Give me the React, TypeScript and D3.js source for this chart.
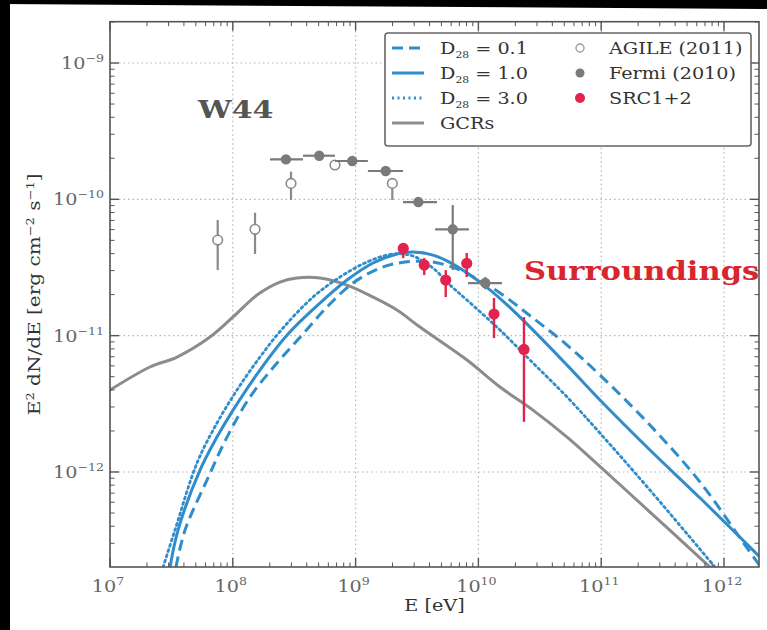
import React, { useEffect } from 'react';
import * as d3 from 'd3';

// ---------- data (log10 values) ----------
const xTickExps = [7, 8, 9, 10, 11, 12];
const yTickExps = [-9, -10, -11, -12];

const gcrLogE = [7.0, 7.326, 7.546, 7.814, 8.002, 8.197, 8.384, 8.523, 8.71, 8.93, 9.142, 9.337, 9.524, 9.907, 10.176, 10.444, 10.722, 10.933, 11.397, 11.886, 12.13];
const gcrLogF = [-11.399, -11.23, -11.157, -11.01, -10.863, -10.702, -10.607, -10.577, -10.577, -10.629, -10.717, -10.812, -10.937, -11.179, -11.377, -11.546, -11.744, -11.913, -12.294, -12.698, -12.903];

const d1LogE = [7.489, 7.554, 7.733, 7.871, 8.002, 8.221, 8.45, 8.71, 8.93, 9.142, 9.337, 9.467, 9.63, 9.793, 10.013, 10.2, 10.445, 10.722, 10.99, 11.397, 11.805, 12.285, 12.415];
const d1LogF = [-12.698, -12.426, -11.986, -11.744, -11.546, -11.252, -10.988, -10.761, -10.592, -10.467, -10.401, -10.387, -10.409, -10.475, -10.607, -10.746, -10.959, -11.216, -11.472, -11.839, -12.191, -12.617, -12.734];

const d01LogE = [7.537, 7.611, 7.79, 7.953, 8.14, 8.36, 8.572, 8.767, 8.979, 9.199, 9.402, 9.63, 9.85, 10.013, 10.176, 10.445, 10.722, 10.99, 11.397, 11.805, 12.171, 12.375];
const d01LogF = [-12.698, -12.426, -12.059, -11.744, -11.45, -11.201, -10.988, -10.79, -10.614, -10.504, -10.46, -10.46, -10.519, -10.599, -10.687, -10.871, -11.069, -11.289, -11.656, -12.074, -12.536, -12.793];

const d3LogE = [7.432, 7.529, 7.708, 7.871, 8.034, 8.221, 8.409, 8.653, 8.873, 9.093, 9.305, 9.467, 9.63, 9.769, 9.907, 10.176, 10.445, 10.722, 10.99, 11.397, 11.927, 12.049];
const d3LogF = [-12.698, -12.426, -11.935, -11.641, -11.399, -11.157, -10.944, -10.717, -10.57, -10.46, -10.401, -10.416, -10.504, -10.629, -10.739, -10.959, -11.201, -11.45, -11.715, -12.133, -12.698, -12.83];

const fermiLogE = [8.433, 8.704, 8.973, 9.245, 9.511, 9.791, 10.056];
const fermiLogELo = [8.303, 8.572, 8.832, 9.1, 9.386, 9.647, 9.915];
const fermiLogEHi = [8.572, 8.832, 9.1, 9.386, 9.663, 9.923, 10.192];
const fermiLogF = [-9.707, -9.68, -9.719, -9.792, -10.02, -10.22, -10.614];
const fermiLogFLo = [-9.73, -9.7, -9.74, -9.82, -10.04, -10.519, -10.66];
const fermiLogFHi = [-9.69, -9.66, -9.7, -9.77, -10.0, -10.042, -10.57];

const agileLogE = [7.877, 8.181, 8.474, 8.832, 9.299];
const agileLogF = [-10.299, -10.22, -9.883, -9.748, -9.883];
const agileLogFLo = [-10.519, -10.401, -10.005, -9.785, -10.005];
const agileLogFHi = [-10.152, -10.098, -9.797, -9.726, -9.844];

const srcLogE = [9.388, 9.559, 9.734, 9.905, 10.127, 10.371];
const srcLogF = [-10.36, -10.482, -10.592, -10.47, -10.842, -11.101];
const srcLogFLo = [-10.431, -10.555, -10.717, -10.57, -11.018, -11.632];
const srcLogFHi = [-10.321, -10.431, -10.519, -10.394, -10.724, -10.864];

const legendLines = ['0.1', '1.0', '3.0'];
const legendMarkers = ['AGILE (2011)', 'Fermi (2010)', 'SRC1+2'];

// ---------- styles ----------
const BLUE = '#2f8dcb';
const GREY_LINE = '#8c8c8c';
const RED = '#e2234d';
const FONT = '"DejaVu Serif", serif';
const SX = 1.2;

const W = 767, H = 630;
const L = 110, R = 759, T = 21.7, B = 567;

const p10 = (v: number) => Math.pow(10, v);

function SText({ x, y, anchor = 'start', size = 17, fill = '#333', weight = 'normal', children }: any) {
  return (
    <g transform={`translate(${x},${y}) scale(${SX},1)`}>
      <text x={0} y={0} textAnchor={anchor} fontSize={size} fill={fill} fontWeight={weight} fontFamily={FONT}>
        {children}
      </text>
    </g>
  );
}

export default function App() {
  useEffect(() => {
    document.body.style.margin = '0';
    document.body.style.overflow = 'hidden';
    document.body.style.background = '#fff';
  }, []);

  const x = d3.scaleLog().domain([1e7, p10(12.285)]).range([L, R]);
  const y = d3.scaleLog().domain([p10(-12.697), p10(-8.697)]).range([B, T]);

  const line = d3
    .line<[number, number]>()
    .x((d) => x(p10(d[0])))
    .y((d) => y(p10(d[1])))
    .curve(d3.curveCatmullRom.alpha(0.5));
  const mk = (e: number[], f: number[]) => line(e.map((v, i) => [v, f[i]] as [number, number])) || '';

  const xMinor: number[] = [];
  for (let k = 7; k <= 12; k++) for (let m = 2; m <= 9; m++) {
    const v = m * p10(k);
    if (v < p10(12.285)) xMinor.push(v);
  }
  const yMinor: number[] = [];
  for (let k = -13; k <= -9; k++) for (let m = 2; m <= 9; m++) {
    const v = m * p10(k);
    if (v > p10(-12.697) && v < p10(-8.697)) yMinor.push(v);
  }

  const axisCol = '#555';
  const gridCol = '#b5b5b5';

  return (
    <svg width={W} height={H} style={{ position: 'fixed', left: 0, top: 0, background: '#fff', display: 'block' }}>
      <rect x={0} y={0} width={W} height={H} fill="#fff" />
      <polygon points={`0,0 ${W},0 ${W},9 0,4`} fill="#000" />
      <rect x={0} y={0} width={10} height={H} fill="#000" />
      <defs>
        <clipPath id="plotClip">
          <rect x={L} y={T} width={R - L} height={B - T} />
        </clipPath>
      </defs>

      {/* grid */}
      {xTickExps.map((k) => (
        <line key={'gx' + k} x1={x(p10(k))} x2={x(p10(k))} y1={T} y2={B} stroke={gridCol} strokeWidth={1.2} strokeDasharray="1.5,3" />
      ))}
      {yTickExps.map((k) => (
        <line key={'gy' + k} x1={L} x2={R} y1={y(p10(k))} y2={y(p10(k))} stroke={gridCol} strokeWidth={1.2} strokeDasharray="1.5,3" />
      ))}

      {/* curves */}
      <g clipPath="url(#plotClip)" fill="none">
        <path d={mk(gcrLogE, gcrLogF)} stroke={GREY_LINE} strokeWidth={3} />
        <path d={mk(d3LogE, d3LogF)} stroke={BLUE} strokeWidth={2.8} strokeDasharray="2,3.5" strokeLinecap="round" />
        <path d={mk(d01LogE, d01LogF)} stroke={BLUE} strokeWidth={3} strokeDasharray="11,6" />
        <path d={mk(d1LogE, d1LogF)} stroke={BLUE} strokeWidth={3} />
      </g>

      {/* AGILE */}
      <g>
        {agileLogE.map((e, i) => (
          <g key={'a' + i}>
            <line x1={x(p10(e))} x2={x(p10(e))} y1={y(p10(agileLogFLo[i]))} y2={y(p10(agileLogFHi[i]))} stroke="#8a8a8a" strokeWidth={2.2} />
            <circle cx={x(p10(e))} cy={y(p10(agileLogF[i]))} r={4.8} fill="#fff" stroke="#8a8a8a" strokeWidth={1.6} />
          </g>
        ))}
      </g>
      {/* Fermi */}
      <g>
        {fermiLogE.map((e, i) => (
          <g key={'f' + i}>
            <line x1={x(p10(fermiLogELo[i]))} x2={x(p10(fermiLogEHi[i]))} y1={y(p10(fermiLogF[i]))} y2={y(p10(fermiLogF[i]))} stroke="#7a7a7a" strokeWidth={2.2} />
            <line x1={x(p10(e))} x2={x(p10(e))} y1={y(p10(fermiLogFLo[i]))} y2={y(p10(fermiLogFHi[i]))} stroke="#7a7a7a" strokeWidth={2.2} />
            <circle cx={x(p10(e))} cy={y(p10(fermiLogF[i]))} r={5.2} fill="#7a7a7a" />
          </g>
        ))}
      </g>
      {/* SRC */}
      <g>
        {srcLogE.map((e, i) => (
          <g key={'s' + i}>
            <line x1={x(p10(e))} x2={x(p10(e))} y1={y(p10(srcLogFLo[i]))} y2={y(p10(srcLogFHi[i]))} stroke={RED} strokeWidth={2.4} />
            <circle cx={x(p10(e))} cy={y(p10(srcLogF[i]))} r={5.6} fill={RED} />
          </g>
        ))}
      </g>

      {/* frame */}
      <rect x={L} y={T} width={R - L} height={B - T} fill="none" stroke={axisCol} strokeWidth={1.6} />

      {/* ticks */}
      {xTickExps.map((k) => (
        <g key={'xt' + k}>
          <line x1={x(p10(k))} x2={x(p10(k))} y1={B} y2={B - 9} stroke={axisCol} strokeWidth={1.4} />
          <line x1={x(p10(k))} x2={x(p10(k))} y1={T} y2={T + 9} stroke={axisCol} strokeWidth={1.4} />
        </g>
      ))}
      {xMinor.map((v, i) => (
        <g key={'xm' + i}>
          <line x1={x(v)} x2={x(v)} y1={B} y2={B - 4.5} stroke={axisCol} strokeWidth={1} />
          <line x1={x(v)} x2={x(v)} y1={T} y2={T + 4.5} stroke={axisCol} strokeWidth={1} />
        </g>
      ))}
      {yTickExps.map((k) => (
        <g key={'yt' + k}>
          <line x1={L} x2={L + 9} y1={y(p10(k))} y2={y(p10(k))} stroke={axisCol} strokeWidth={1.4} />
          <line x1={R} x2={R - 9} y1={y(p10(k))} y2={y(p10(k))} stroke={axisCol} strokeWidth={1.4} />
        </g>
      ))}
      {yMinor.map((v, i) => (
        <g key={'ym' + i}>
          <line x1={L} x2={L + 4.5} y1={y(v)} y2={y(v)} stroke={axisCol} strokeWidth={1} />
          <line x1={R} x2={R - 4.5} y1={y(v)} y2={y(v)} stroke={axisCol} strokeWidth={1} />
        </g>
      ))}

      {/* tick labels */}
      {xTickExps.map((k) => (
        <SText key={'xl' + k} x={x(p10(k)) - 2} y={592} anchor="middle" size={16} fill="#666">
          <tspan>10</tspan>
          <tspan dy={-7} fontSize={10.5}>{String(k)}</tspan>
        </SText>
      ))}
      {yTickExps.map((k) => (
        <SText key={'yl' + k} x={104} y={y(p10(k)) + 6} anchor="end" size={16} fill="#666">
          <tspan>10</tspan>
          <tspan dy={-7} fontSize={10.5}>{'\u2212' + String(-k)}</tspan>
        </SText>
      ))}

      {/* axis labels */}
      <SText x={(L + R) / 2} y={611} anchor="middle" size={16} fill="#333">E [eV]</SText>
      <g transform={`translate(40,${(T + B) / 2}) rotate(-90) scale(1.18,1)`}>
        <text x={0} y={0} textAnchor="middle" fontSize={17} fill="#333" fontFamily={FONT}>
          <tspan>E</tspan>
          <tspan dy={-6} fontSize={11}>2</tspan>
          <tspan dy={6}> dN/dE [erg cm</tspan>
          <tspan dy={-6} fontSize={11}>{'\u22122'}</tspan>
          <tspan dy={6}> s</tspan>
          <tspan dy={-6} fontSize={11}>{'\u22121'}</tspan>
          <tspan dy={6}>]</tspan>
        </text>
      </g>

      {/* annotations */}
      <SText x={198} y={118} size={25} weight="bold" fill="#555">W44</SText>
      <SText x={524} y={280} size={25.5} weight="bold" fill="#d8262e">Surroundings</SText>

      {/* legend */}
      <rect x={385} y={33} width={366} height={113} rx={3} fill="#fff" stroke="#666" strokeWidth={1.6} />
      {legendLines.map((lab, i) => {
        const yy = 48 + i * 25;
        const dash = i === 0 ? '11,6' : i === 2 ? '2,3.5' : undefined;
        return (
          <g key={'ll' + i}>
            <line x1={392} x2={424} y1={yy} y2={yy} stroke={BLUE} strokeWidth={3} strokeDasharray={dash} />
            <SText x={440} y={yy + 6} size={16} fill="#333">
              <tspan>D</tspan>
              <tspan dy={4} fontSize={9}>28</tspan>
              <tspan dy={-4}>{' = ' + lab}</tspan>
            </SText>
          </g>
        );
      })}
      <line x1={392} x2={424} y1={123} y2={123} stroke={GREY_LINE} strokeWidth={3} />
      <SText x={440} y={129} size={16} fill="#333">GCRs</SText>
      {legendMarkers.map((lab, i) => {
        const yy = 48 + i * 25;
        return (
          <g key={'lm' + i}>
            {i === 0 && <circle cx={580} cy={yy} r={4} fill="#fff" stroke="#999" strokeWidth={1.3} />}
            {i === 1 && <circle cx={580} cy={yy} r={4.5} fill="#7a7a7a" />}
            {i === 2 && <circle cx={580} cy={yy} r={5} fill={RED} />}
            <SText x={609} y={yy + 6} size={16} fill="#333">{lab}</SText>
          </g>
        );
      })}
    </svg>
  );
}
